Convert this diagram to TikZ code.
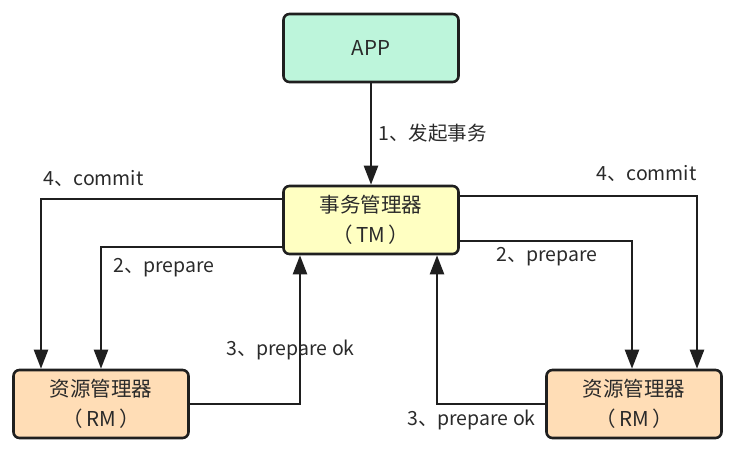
\documentclass[tikz,border=0pt]{standalone}
\usepackage{fontspec}
\setmainfont{Noto Sans CJK SC}
\usetikzlibrary{arrows.meta}
\definecolor{appgreen}{HTML}{BDF5DB}
\definecolor{tmyellow}{HTML}{FFFFC2}
\definecolor{rmorange}{HTML}{FFDDB6}
\definecolor{txtgray}{HTML}{2A2A2A}

\begin{document}
\begin{tikzpicture}[x=1pt,y=-1pt,
	box/.style={draw=black!88,line width=2.6pt,rounded corners=6pt,minimum width=175pt,minimum height=68pt,align=center,text=txtgray,font=\fontsize{20.5}{30}\selectfont},
	link/.style={line width=2.4pt,draw=black!88,-{Triangle[length=19pt,width=14pt]}},
	lbl/.style={anchor=west,inner sep=0pt,text=txtgray,font=\fontsize{19.5}{22}\selectfont}]
					\useasboundingbox (0,0) rectangle (734,451);
					\node[box,fill=appgreen] (app) at (371,48) {APP};
					\node[box,fill=tmyellow] (tm)  at (371,220) {事务管理器\\（\,TM\,）};
					\node[box,fill=rmorange] (rmA) at (101,404) {资源管理器\\（\,RM\,）};
					\node[box,fill=rmorange] (rmB) at (634,404) {资源管理器\\（\,RM\,）};
					
					\draw[link] (app.south) -- (tm.north);
					\draw[link] ([yshift=21pt]tm.west) -| ([xshift=-60pt]rmA.north);
					\draw[link] ([yshift=-27pt]tm.west) -| (rmA.north);
					\draw[link] (rmA.east) -| ([xshift=-71pt]tm.south);
					\draw[link] ([yshift=24pt]tm.east) -| ([xshift=63pt]rmB.north);
					\draw[link] ([yshift=-21pt]tm.east) -| ([xshift=-2pt]rmB.north);
					\draw[link] (rmB.west) -| ([xshift=66pt]tm.south);
					
					\node[lbl] (lblA) at (378,133) {1、发起事务};
					\node[lbl] (lblB) at (43,178)  {4、commit};
					\node[lbl] (lblC) at (596,173) {4、commit};
					\node[lbl] (lblD) at (113,268) {2、prepare};
					\node[lbl] (lblE) at (496,257) {2、prepare};
					\node[lbl] (lblF) at (226,350) {3、prepare ok};
					\node[lbl] (lblG) at (407,420) {3、prepare ok};
				\end{tikzpicture}
\end{document}
